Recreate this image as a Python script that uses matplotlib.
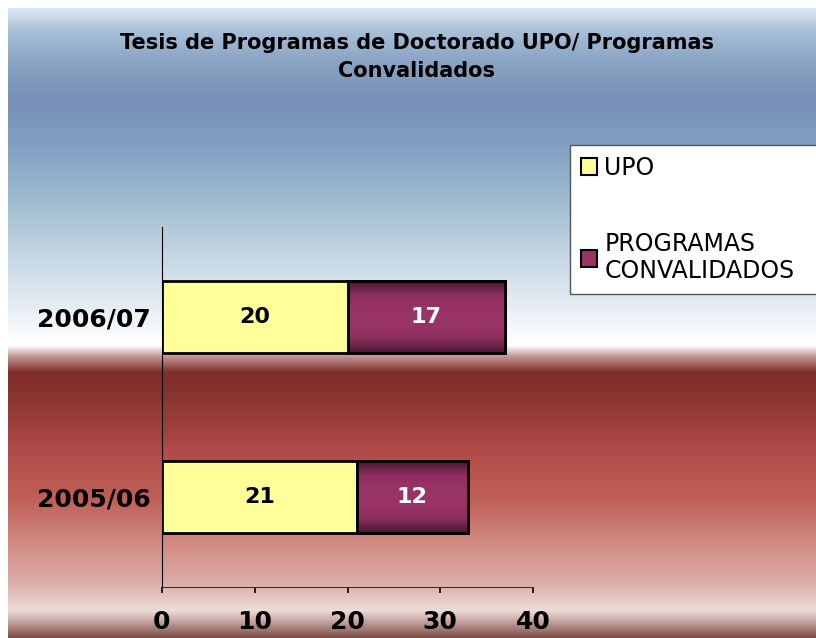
import numpy as np
import matplotlib
matplotlib.use("Agg")
import matplotlib.pyplot as plt
from matplotlib.colors import LinearSegmentedColormap, to_rgb

# data
years = ["2005/06", "2006/07"]
upo = [21, 20]
convalidados = [12, 17]
series_names = ["UPO", "PROGRAMAS\nCONVALIDADOS"]
title = "Tesis de Programas de Doctorado UPO/ Programas\nConvalidados"

W, H = 816, 638
fig = plt.figure(figsize=(W / 100, H / 100), dpi=100)
fig.patch.set_facecolor("white")

# background gradient (pixel rows from top, colour)
bg_stops = [
    (8, "#dce8f4"), (30, "#a9c0d8"), (60, "#8aa4c4"), (100, "#7790b8"),
    (150, "#84a2c4"), (200, "#a0bcd0"), (260, "#c8d8e6"), (310, "#e8eff5"),
    (335, "#fbfcfd"), (345, "#ffffff"), (356, "#c49494"), (372, "#7e2c2a"),
    (400, "#8c3632"), (450, "#b04a48"), (500, "#c06058"), (540, "#d08880"),
    (580, "#dcaaa6"), (610, "#ecdcd6"), (620, "#c8a8a4"), (638, "#7a4840"),
]
rows = np.arange(8, H)
ys = [s[0] for s in bg_stops]
cols = np.array([to_rgb(s[1]) for s in bg_stops])
grad = np.stack([np.interp(rows, ys, cols[:, k]) for k in range(3)], axis=1)
bg_ax = fig.add_axes([8 / W, 0, 1 - 8 / W, 1 - 8 / H], zorder=-10)
bg_ax.imshow(grad[:, None, :], aspect="auto", extent=(0, 1, 0, 1))
bg_ax.set_axis_off()

ax = fig.add_axes([162 / W, 1 - 587 / H, (533 - 162) / W, (587 - 227) / H])
ax.patch.set_alpha(0)

y = np.arange(len(years))
h = 0.4
b1 = ax.barh(y, upo, height=h, color="#ffff99", edgecolor="black", linewidth=2, label=series_names[0], zorder=3)
b2 = ax.barh(y, convalidados, left=upo, height=h, color="#993366", edgecolor="black", linewidth=2,
             label=series_names[1], zorder=3)

# shaded purple fill
purple = LinearSegmentedColormap.from_list("p", ["#4a1832", "#8e2f5e", "#993366", "#993366", "#8e2f5e", "#4a1832"])
for rect in b2:
    x0, y0 = rect.get_x(), rect.get_y()
    im = ax.imshow(np.linspace(0, 1, 100)[:, None], cmap=purple, aspect="auto",
                   extent=(x0, x0 + rect.get_width(), y0, y0 + rect.get_height()), zorder=3.5)
    im.set_clip_path(rect)
    edge = plt.Rectangle((x0, y0), rect.get_width(), rect.get_height(), fill=False,
                         edgecolor="black", linewidth=2, zorder=4)
    ax.add_patch(edge)

ax.bar_label(b1, label_type="center", fontsize=16, fontweight="bold", color="black", zorder=5)
ax.bar_label(b2, label_type="center", fontsize=16, fontweight="bold", color="white", zorder=5)

ax.set_xlim(0, 40)
ax.set_ylim(-0.5, 1.5)
ax.set_xticks([0, 10, 20, 30, 40])
ax.set_yticks(y, years)
ax.spines["top"].set_visible(False)
ax.spines["right"].set_visible(False)
ax.spines["left"].set_color("black")
ax.spines["bottom"].set_color("#333333")
ax.tick_params(axis="x", direction="out", length=4.5, width=1.2, pad=12, labelsize=18)
ax.tick_params(axis="y", length=0, pad=8, labelsize=18)
for lbl in ax.get_xticklabels() + ax.get_yticklabels():
    lbl.set_fontweight("bold")

fig.text(417 / W, 1 - 57 / H, title, ha="center", va="center", fontsize=15, fontweight="bold",
         linespacing=1.45)

leg = fig.legend(handles=[b1, b2], loc="upper left",
                 bbox_to_anchor=(570 / W, 1 - 294 / H, 260 / W, 149 / H), mode="expand",
                 fontsize=17, frameon=True, fancybox=False, edgecolor="#555555", framealpha=1,
                 handlelength=0.7, handleheight=0.7, handletextpad=0.3,
                 labelspacing=2.2, borderpad=0.45, borderaxespad=0)
leg.get_frame().set_linewidth(1)
for hnd in leg.legend_handles:
    hnd.set_linewidth(1.5)

fig.savefig("out.png", dpi=100)
